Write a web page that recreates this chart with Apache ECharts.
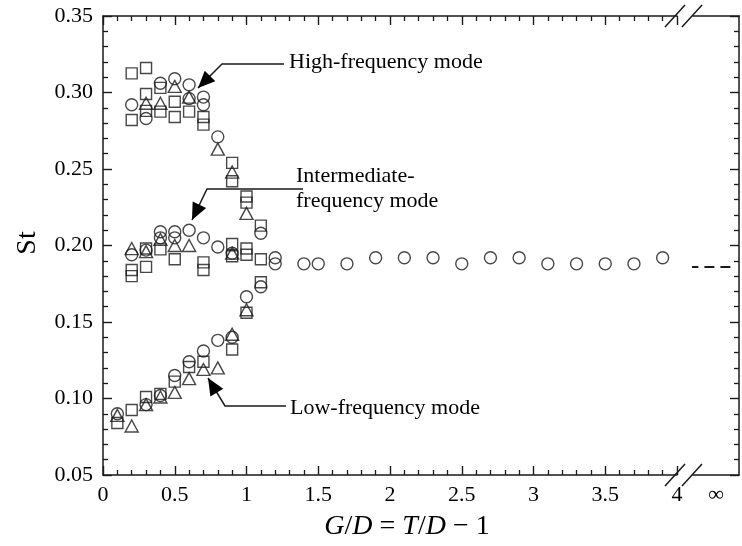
<!DOCTYPE html>
<html><head><meta charset="utf-8">
<script src="https://cdn.jsdelivr.net/npm/echarts@6/dist/echarts.min.js"></script>
<style>html,body{margin:0;padding:0;background:#fff}#c{width:742px;height:546px}</style>
</head><body><div id="c"></div>
<script>
// ---- data (x = G/D, y = St) ----
const xTickLabels = ['0','0.5','1','1.5','2','2.5','3','3.5','4'];
const circles = [
  [0.2,0.292],[0.3,0.283],[0.4,0.306],[0.5,0.309],[0.6,0.305],[0.6,0.296],[0.7,0.297],[0.7,0.292],[0.8,0.271],
  [0.2,0.194],[0.3,0.197],[0.4,0.209],[0.4,0.205],[0.5,0.209],[0.5,0.205],[0.6,0.210],[0.7,0.205],[0.8,0.199],[0.9,0.195],[1.1,0.208],[1.2,0.192],[1.2,0.188],
  [1.4,0.188],[1.5,0.188],[1.7,0.188],[1.9,0.192],[2.1,0.192],[2.3,0.192],[2.5,0.188],[2.7,0.192],[2.9,0.192],[3.1,0.188],[3.3,0.188],[3.5,0.188],[3.7,0.188],[3.9,0.192],
  [0.1,0.090],[0.3,0.096],[0.4,0.102],[0.5,0.115],[0.6,0.124],[0.7,0.131],[0.8,0.138],[0.9,0.140],[1.0,0.1665],[1.1,0.173]
];
const triangles = [
  [0.3,0.293],[0.4,0.293],[0.5,0.304],[0.6,0.297],[0.8,0.263],[0.9,0.248],[1.0,0.221],
  [0.2,0.198],[0.3,0.196],[0.4,0.204],[0.5,0.200],[0.6,0.200],[0.9,0.195],
  [0.1,0.089],[0.2,0.082],[0.3,0.096],[0.4,0.101],[0.5,0.104],[0.6,0.113],[0.7,0.119],[0.8,0.120],[0.9,0.142],[1.0,0.158]
];
const squares = [
  [0.2,0.3125],[0.2,0.282],[0.3,0.316],[0.3,0.299],[0.3,0.288],[0.4,0.303],[0.4,0.2875],[0.5,0.294],[0.5,0.284],[0.6,0.2875],[0.7,0.284],[0.7,0.279],[0.9,0.254],[0.9,0.242],[1.0,0.232],[1.0,0.228],[1.1,0.213],
  [0.2,0.184],[0.2,0.180],[0.3,0.198],[0.3,0.186],[0.4,0.1975],[0.5,0.191],[0.7,0.189],[0.7,0.184],[0.9,0.201],[0.9,0.193],[1.0,0.198],[1.0,0.194],[1.1,0.191],
  [0.1,0.084],[0.2,0.0925],[0.3,0.101],[0.4,0.103],[0.5,0.111],[0.6,0.1206],[0.7,0.124],[0.9,0.132],[1.0,0.156],[1.1,0.176]
];
const stInfinity = 0.186;           // single-cylinder value at G/D -> infinity
const infinitySpan = [-0.1, 0.83];  // extent of the dashed mark on the "infinity" axis

// ---- chart ----
const FONT = '"Liberation Serif","Times New Roman",serif';
const INK = '#1a1a1a';
const chart = echarts.init(document.getElementById('c'), null, {renderer:'canvas'});

const axisLine = {show:true, onZero:false, lineStyle:{color:INK, width:1.5}};
const tick = {show:true, inside:true, length:9, lineStyle:{color:INK, width:1.4}};
const minor = {show:true, splitNumber:5, length:5, lineStyle:{color:INK, width:1.3}};
const lbl = {fontFamily:FONT, fontSize:22, color:'#000'};

function head(tail, tip, len, hw) {
  const dx = tip[0]-tail[0], dy = tip[1]-tail[1], d = Math.hypot(dx,dy);
  const ux = dx/d, uy = dy/d;
  const bx = tip[0]-ux*len, by = tip[1]-uy*len;
  return [[tip[0],tip[1]],[bx-uy*hw, by+ux*hw],[bx+uy*hw, by-ux*hw]];
}
const lineStyleG = {stroke:INK, lineWidth:1.5, fill:null};
function arrow(points) {
  const n = points.length;
  return [
    {type:'polyline', shape:{points:points}, style:lineStyleG, silent:true},
    {type:'polygon', shape:{points:head(points[n-2], points[n-1], 17, 7.5)}, style:{fill:'#000'}, silent:true}
  ];
}
function txt(x, y, s, size, extra) {
  return Object.assign({type:'text', x:x, y:y, silent:true,
    style:Object.assign({text:s, fontFamily:FONT, fontSize:size, fill:'#000',
      align:'left', verticalAlign:'middle'}, extra||{})});
}

const graphics = [
  // axis break marks
  {type:'line', shape:{x1:665,y1:27,x2:685,y2:5}, style:lineStyleG},
  {type:'line', shape:{x1:682,y1:27,x2:702,y2:5}, style:lineStyleG},
  {type:'line', shape:{x1:665,y1:486,x2:685,y2:464}, style:lineStyleG},
  {type:'line', shape:{x1:682,y1:486,x2:702,y2:464}, style:lineStyleG},
  ...arrow([[284,64],[222,64],[198,88]]),
  ...arrow([[303,189],[207,189],[192,220]]),
  ...arrow([[286,406],[225,406],[208,378]]),
  txt(289, 62, 'High-frequency mode', 22),
  txt(296, 176, 'Intermediate-', 22),
  txt(296, 201, 'frequency mode', 22),
  txt(290, 408, 'Low-frequency mode', 22),
  txt(407, 527, '{i|G}/{i|D} = {i|T}/{i|D} \u2212 1', 28, {align:'center',
      rich:{i:{fontStyle:'italic', fontFamily:FONT, fontSize:28}}}),
  Object.assign(txt(28, 243, 'St', 28, {align:'center'}), {rotation:Math.PI/2})
];

const marker = {color:'rgba(0,0,0,0)', borderColor:INK, borderWidth:1.4};

chart.setOption({
  animation:false,
  backgroundColor:'#fff',
  grid:[
    {left:103, right:65, top:16, bottom:71},
    {left:693, right:1, top:16, bottom:71}
  ],
  xAxis:[
    {type:'value', gridIndex:0, position:'bottom', min:0, max:4, interval:0.5,
     axisLine:axisLine, axisTick:tick, minorTick:minor, splitLine:{show:false}, minorSplitLine:{show:false},
     axisLabel:Object.assign({margin:9, formatter:(v)=>{const i=Math.round(v/0.5); return (Math.abs(v-i*0.5)<1e-9 && xTickLabels[i]!==undefined)?xTickLabels[i]:'';}}, lbl)},
    {type:'value', gridIndex:0, position:'top', min:0, max:4, interval:0.5,
     axisLine:axisLine, axisTick:tick, minorTick:minor, splitLine:{show:false}, axisLabel:{show:false}},
    {type:'value', gridIndex:1, position:'bottom', min:0, max:1, interval:0.5,
     axisLine:axisLine, axisTick:{show:false}, splitLine:{show:false},
     axisLabel:Object.assign({margin:9, formatter:(v)=>Math.abs(v-0.5)<1e-9?'\u221E':''}, lbl)},
    {type:'value', gridIndex:1, position:'top', min:0, max:1, interval:0.5,
     axisLine:axisLine, axisTick:{show:false}, splitLine:{show:false}, axisLabel:{show:false}}
  ],
  yAxis:[
    {type:'value', gridIndex:0, position:'left', min:0.05, max:0.35, interval:0.05,
     axisLine:axisLine, axisTick:tick, minorTick:minor, splitLine:{show:false},
     axisLabel:Object.assign({margin:10, formatter:(v)=>v.toFixed(2)}, lbl)},
    {type:'value', gridIndex:1, position:'right', min:0.05, max:0.35, interval:0.05,
     axisLine:axisLine, axisTick:tick, minorTick:minor, splitLine:{show:false}, axisLabel:{show:false}}
  ],
  series:[
    {type:'scatter', xAxisIndex:0, yAxisIndex:0, symbol:'circle', symbolSize:12, data:circles, itemStyle:marker, z:3},
    {type:'scatter', xAxisIndex:0, yAxisIndex:0, symbol:'triangle', symbolSize:[13,12], data:triangles, itemStyle:marker, z:3},
    {type:'scatter', xAxisIndex:0, yAxisIndex:0, symbol:'rect', symbolSize:11, data:squares, itemStyle:marker, z:3},
    {type:'line', xAxisIndex:2, yAxisIndex:1, clip:false, symbol:'none',
     data:[[infinitySpan[0], stInfinity],[infinitySpan[1], stInfinity]],
     lineStyle:{color:INK, width:2, type:[10,6]}}
  ],
  graphic:graphics
});
</script></body></html>
